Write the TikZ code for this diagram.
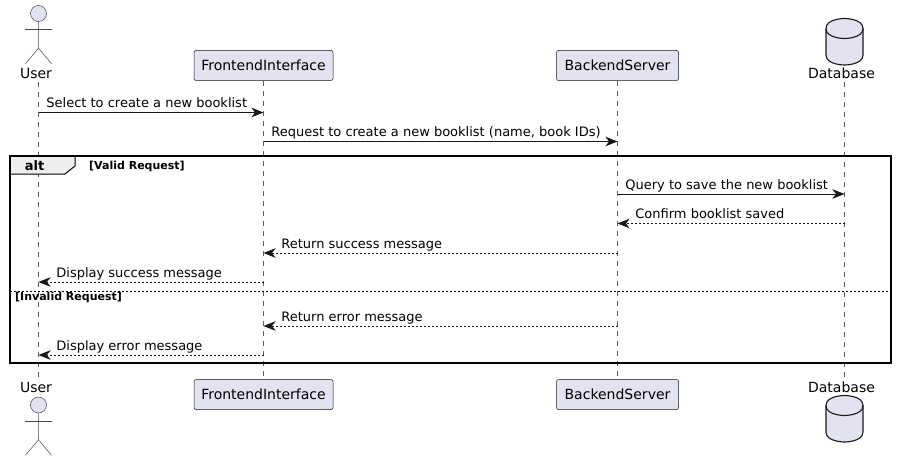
\documentclass[tikz,border=0pt]{standalone}
\usepackage{fontspec}
\setmainfont{DejaVu Sans}
\usetikzlibrary{arrows.meta}
\definecolor{partfill}{HTML}{E2E2F0}
\definecolor{partline}{HTML}{181818}
\definecolor{tabfill}{HTML}{EEEEEE}

\begin{document}
\begin{tikzpicture}[x=1pt, y=-1pt, every node/.style={font=\fontsize{13}{15}\selectfont, text=black},
	partbox/.style={draw=partline, fill=partfill, rounded corners=2pt, line width=0.5pt, minimum width=139pt, minimum height=30pt, inner sep=0pt, font=\fontsize{14}{16}\selectfont},
	partlabel/.style={inner sep=0pt, font=\fontsize{14}{16}\selectfont},
	actorhead/.style={draw=partline!80, fill=partfill, circle, line width=0.5pt, minimum size=16pt, inner sep=0pt},
	actorline/.style={draw=partline!80, line width=0.5pt},
	dbline/.style={draw=partline, fill=partfill, line width=1.1pt},
	lifeline/.style={draw=partline!70, line width=0.5pt, dash pattern=on 5pt off 5pt},
	call/.style={draw=partline, line width=0.8pt, -{Stealth[length=12pt, width=9.5pt, inset=3.5pt]}},
	reply/.style={call, dash pattern=on 2pt off 2pt},
	calltext/.style={anchor=base west, inner sep=0pt, yshift=5pt},
	tabtext/.style={font=\fontsize{11}{13}\selectfont\bfseries, anchor=base west, inner sep=0pt},
	dbdrum/.pic={
		\path[dbline] (-18.5,10) .. controls (-18.5,0) and (0,0) .. (0,0) .. controls (0,0) and (18.5,0) .. (18.5,10) -- (18.5,36.5) .. controls (18.5,46.5) and (0,46.5) .. (0,46.5) .. controls (0,46.5) and (-18.5,46.5) .. (-18.5,36.5) -- cycle;
		\path[dbline, fill=none] (-18.5,10) .. controls (-18.5,20) and (0,20) .. (0,20) .. controls (0,20) and (18.5,20) .. (18.5,10);
	}]
	\useasboundingbox (0,0) rectangle (897,460);

	% top row
	\node[partlabel] (usertop) at (36,73.5) {User};
	\node[partbox] (fronttop) at (263.5,65.5) {FrontendInterface};
	\node[partbox, minimum width=122pt] (backtop) at (617.5,65.5) {BackendServer};
	\node[partlabel] (dbtop) at (841.5,73.5) {Database};
	\node[actorhead] (headtop) at (38.5,13.5) {};
	\coordinate (cyltop) at (844.5,18.5);
	\pic at (cyltop) {dbdrum};

	% bottom row
	\node[partlabel] (userbot) at (36,387.5) {User};
	\node[partbox] (frontbot) at (263.5,394.5) {FrontendInterface};
	\node[partbox, minimum width=122pt] (backbot) at (617.5,394.5) {BackendServer};
	\node[partlabel] (dbbot) at (841.5,387.5) {Database};
	\node[actorhead] (headbot) at (38.5,405) {};
	\coordinate (cylbot) at (844.5,395.5);
	\pic at (cylbot) {dbdrum};

	% stick figures
	\draw[actorline] (headtop.south) -- ++(0,26.5) -- ++(-13,15.5) ++(13,-15.5) -- ++(13,15.5);
	\draw[actorline] (headtop.south) ++(-13.5,7.5) -- ++(27,0);
	\draw[actorline] (headbot.south) -- ++(0,26.5) -- ++(-13,15.5) ++(13,-15.5) -- ++(13,15.5);
	\draw[actorline] (headbot.south) ++(-13.5,7.5) -- ++(27,0);

	% lifelines
	\draw[lifeline, shorten <=3pt, shorten >=4pt] (headtop |- usertop.south) -- (headbot |- userbot.north);
	\draw[lifeline] (fronttop.south) -- (frontbot.north);
	\draw[lifeline] (backtop.south) -- (backbot.north);
	\draw[lifeline, shorten <=3pt, shorten >=4pt] (cyltop |- dbtop.south) -- (cylbot |- dbbot.north);

	% rows of the messages
	\coordinate (row1) at (0,112.5);
	\coordinate (row2) at (0,141.5);
	\coordinate (row3) at (0,194);
	\coordinate (row4) at (0,223.5);
	\coordinate (row5) at (0,253);
	\coordinate (row6) at (0,282);
	\coordinate (row7) at (0,326);
	\coordinate (row8) at (0,355);

	% alt frame
	\coordinate (framenw) at (10,156);
	\coordinate (framese) at (891,363);
	\coordinate (splitw) at (10,291);
	\draw[fill=tabfill, line width=1pt] (framenw) -- ++(65,0) -- ++(0,10) -- ++(-10,8) -- ++(-55,0) -- cycle;
	\draw[line width=1.5pt] (framenw) rectangle (framese);
	\draw[line width=0.8pt, dash pattern=on 2pt off 2pt] (splitw) -- (splitw -| framese);
	\node[font=\fontsize{13}{15}\selectfont\bfseries, inner sep=0pt, anchor=base] (alttext) at (34.5,170) {alt};
	\node[tabtext] (validtext) at (89,169) {[Valid Request]};
	\node[tabtext] (invalidtext) at (15,300.5) {[Invalid Request]};

	% messages
	\draw[call] (headtop |- row1) -- node[calltext, pos=0, xshift=7.5pt] {Select to create a new booklist} (fronttop |- row1);
	\draw[call] (fronttop |- row2) -- node[calltext, pos=0, xshift=7.5pt] {Request to create a new booklist (name, book IDs)} (backtop |- row2);
	\draw[call] (backtop |- row3) -- node[calltext, pos=0, xshift=7.5pt] {Query to save the new booklist} (cyltop |- row3);
	\draw[reply] (cyltop |- row4) -- node[calltext, pos=1, xshift=17.5pt] {Confirm booklist saved} (backtop |- row4);
	\draw[reply] (backtop |- row5) -- node[calltext, pos=1, xshift=17.5pt] {Return success message} (fronttop |- row5);
	\draw[reply] (fronttop |- row6) -- node[calltext, pos=1, xshift=17.5pt] {Display success message} (headtop |- row6);
	\draw[reply] (backtop |- row7) -- node[calltext, pos=1, xshift=17.5pt] {Return error message} (fronttop |- row7);
	\draw[reply] (fronttop |- row8) -- node[calltext, pos=1, xshift=17.5pt] {Display error message} (headtop |- row8);
\end{tikzpicture}
\end{document}
